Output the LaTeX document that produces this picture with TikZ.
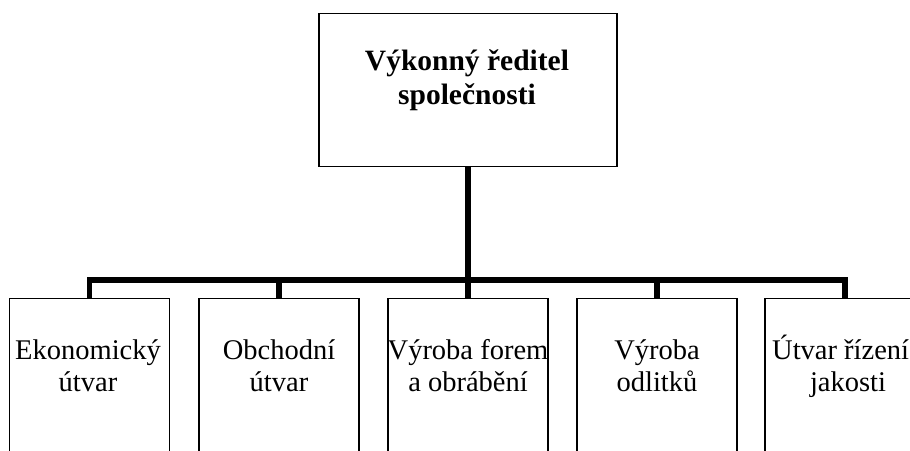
\documentclass[tikz,border=0pt]{standalone}
\usepackage{fontspec}
\setmainfont{Liberation Serif}
\begin{document}
\begin{tikzpicture}[x=1pt,y=-1pt,
  box/.style={draw=black, line width=1.3pt, fill=white, rectangle, inner sep=0pt, minimum width=160pt, minimum height=200pt, anchor=north},
  topbox/.style={draw=black, line width=1.3pt, fill=white, rectangle, inner sep=0pt, minimum width=298pt, minimum height=153pt, anchor=north},
  lbl/.style={anchor=base, inner sep=0pt, font=\fontsize{28.5}{32}\selectfont},
  toplbl/.style={anchor=base, inner sep=0pt, font=\fontsize{29.5}{35}\selectfont\bfseries},
  conn/.style={line width=5.5pt, black}
]
\clip (0,0) rectangle (910,450);
\fill[white] (0,0) rectangle (910,450);
\coordinate (j) at (467,280);
% boxes
\node[topbox] (top) at (468,13) {};
\node[box] (b1) at (89.5,298) {};
\node[box] (b2) at (279,298) {};
\node[box] (b3) at (468,298) {};
\node[box] (b4) at (657,298) {};
\node[box] (b5) at (845,298) {};
% connectors
\draw[conn] (top.south) -- (top.south |- j);
\draw[conn, line join=miter] (b1.north) -- (b1.north |- j) -- (b5.north |- j) -- (b5.north);
\draw[conn] (b2.north |- j) -- (b2.north);
\draw[conn] (b3.north |- j) -- (b3.north);
\draw[conn] (b4.north |- j) -- (b4.north);
% texts
\node[toplbl] (t1) at (467,70) {Výkonný ředitel};
\node[toplbl] (t2) at (467,104) {společnosti};
\node[lbl] (l1a) at (88,359) {Ekonomický};
\node[lbl] (l1b) at (88,391) {útvar};
\node[lbl] (l2a) at (279,359) {Obchodní};
\node[lbl] (l2b) at (279,391) {útvar};
\node[lbl] (l3a) at (468,359) {Výroba forem};
\node[lbl] (l3b) at (468,391) {a obrábění};
\node[lbl] (l4a) at (657,359) {Výroba};
\node[lbl] (l4b) at (657,391) {odlitků};
\node[lbl, anchor=base west] (l5a) at (772,359) {Útvar řízení};
\node[lbl] (l5b) at (848,391) {jakosti};
\end{tikzpicture}
\end{document}
